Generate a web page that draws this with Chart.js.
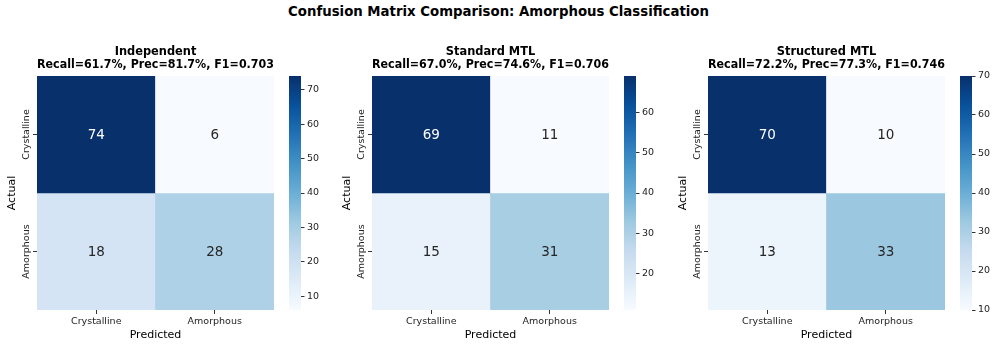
<!DOCTYPE html>
<html>
<head>
<meta charset="utf-8">
<script src="https://cdn.jsdelivr.net/npm/chart.js@4.4.0/dist/chart.umd.min.js"></script>
<style>
  body { margin: 0; background: #fff; }
  #wrap { position: relative; width: 997px; height: 348px; overflow: hidden; }
  #wrap canvas { position: absolute; }
  #titulo { position: absolute; left: 0; top: 0; width: 997px; text-align: center;
    font: bold 13.3px "DejaVu Sans", sans-serif; line-height: 24px; color: #000; }
</style>
</head>
<body>
<div id="wrap">
  <div id="titulo">Confusion Matrix Comparison: Amorphous Classification</div>
</div>
<script>
// dados
const predLabels = ["Crystalline", "Amorphous"];
const actualLabels = ["Crystalline", "Amorphous"];
const modelNames = ["Independent", "Standard MTL", "Structured MTL"];
const metricText = [
  "Recall=61.7%, Prec=81.7%, F1=0.703",
  "Recall=67.0%, Prec=74.6%, F1=0.706",
  "Recall=72.2%, Prec=77.3%, F1=0.746"
];
const cmIndependent = [[74, 6], [18, 28]];
const cmStandard = [[69, 11], [15, 31]];
const cmStructured = [[70, 10], [13, 33]];
const cbTicksIndependent = [10, 20, 30, 40, 50, 60, 70];
const cbTicksStandard = [20, 30, 40, 50, 60];
const cbTicksStructured = [10, 20, 30, 40, 50, 60, 70];

const matrices = [cmIndependent, cmStandard, cmStructured];
const cbTicks = [cbTicksIndependent, cbTicksStandard, cbTicksStructured];

// posicoes dos paineis (area do grafico)
const heatLeft = [37, 372, 708];
const heatWidth = 237;
const cbLeft = [289, 624, 960];

Chart.defaults.font.family = "'DejaVu Sans', sans-serif";
Chart.defaults.color = "#222";

// mapa de cores Blues (matplotlib)
const bluesStops = ["#f7fbff", "#deebf7", "#c6dbef", "#9ecae1", "#6baed6", "#4292c6", "#2171b5", "#08519c", "#08306b"];

function hexToRgb(h) {
  return [parseInt(h.slice(1, 3), 16), parseInt(h.slice(3, 5), 16), parseInt(h.slice(5, 7), 16)];
}

function blues(t) {
  t = Math.max(0, Math.min(1, t));
  const pos = t * (bluesStops.length - 1);
  const i = Math.min(Math.floor(pos), bluesStops.length - 2);
  const f = pos - i;
  const a = hexToRgb(bluesStops[i]);
  const b = hexToRgb(bluesStops[i + 1]);
  const c = a.map((v, k) => Math.round(v + (b[k] - v) * f));
  return `rgb(${c[0]},${c[1]},${c[2]})`;
}

const wrap = document.getElementById("wrap");

function novoCanvas(left, top, w, h) {
  const c = document.createElement("canvas");
  c.width = w;
  c.height = h;
  c.style.left = left + "px";
  c.style.top = top + "px";
  c.style.width = w + "px";
  c.style.height = h + "px";
  wrap.appendChild(c);
  return c;
}

// escreve os valores nas celulas e os rotulos das linhas (rotacionados)
const celulasPlugin = {
  id: "celulas",
  afterDatasetsDraw(chart) {
    const { ctx } = chart;
    const opts = chart.options.plugins.celulas;
    ctx.save();
    ctx.font = "13.5px 'DejaVu Sans'";
    ctx.textAlign = "center";
    ctx.textBaseline = "middle";
    chart.data.datasets.forEach((ds, r) => {
      chart.getDatasetMeta(r).data.forEach((bar, c) => {
        const p = bar.getCenterPoint();
        const v = opts.valores[r][c];
        ctx.fillStyle = (v - opts.vmin) / (opts.vmax - opts.vmin) > 0.6 ? "#fff" : "#262626";
        ctx.fillText(String(v), p.x, p.y + 1);
      });
    });
    ctx.restore();
  },
  afterDraw(chart) {
    const { ctx } = chart;
    const y = chart.scales.y;
    ctx.save();
    ctx.font = "9.5px 'DejaVu Sans'";
    ctx.fillStyle = "#222";
    ctx.textAlign = "center";
    ctx.textBaseline = "middle";
    actualLabels.forEach((lab, i) => {
      ctx.save();
      ctx.translate(chart.chartArea.left - 10.5, y.getPixelForValue(i + 0.5));
      ctx.rotate(-Math.PI / 2);
      ctx.fillText(lab, 0, 0);
      ctx.restore();
    });
    ctx.restore();
  }
};

matrices.forEach((cm, k) => {
  const flat = cm.flat();
  const vmin = Math.min(...flat);
  const vmax = Math.max(...flat);
  const cor = v => blues((v - vmin) / (vmax - vmin));

  // mapa de calor
  const canvas = novoCanvas(heatLeft[k] - 37, 40, 37 + heatWidth + 8, 308);
  new Chart(canvas.getContext("2d"), {
    type: "bar",
    data: {
      labels: predLabels,
      datasets: cm.map((linha, r) => ({
        label: actualLabels[r],
        data: linha.map(() => [r, r + 1]),
        backgroundColor: linha.map(cor),
        borderWidth: 0,
        grouped: false,
        barPercentage: 1,
        categoryPercentage: 1
      }))
    },
    options: {
      responsive: false,
      animation: false,
      layout: { padding: { left: 0, right: 8, top: 0, bottom: 0 } },
      plugins: {
        legend: { display: false },
        tooltip: { enabled: false },
        title: {
          display: true,
          fullSize: false,
          text: [modelNames[k], metricText[k]],
          color: "#000",
          font: { size: 11.4, weight: "bold", lineHeight: "13px" },
          padding: { top: 6, bottom: 4 }
        },
        celulas: { valores: cm, vmin, vmax }
      },
      scales: {
        x: {
          grid: { offset: false, drawOnChartArea: false, tickLength: 4, color: "#333" },
          border: { display: false },
          ticks: { font: { size: 9.5 }, padding: 2, color: "#222" },
          title: { display: true, text: "Predicted", font: { size: 11 }, color: "#000", padding: { top: 0, bottom: 6 } },
          afterFit: s => { s.height = 38; }
        },
        y: {
          type: "linear",
          min: 0,
          max: 2,
          reverse: true,
          afterBuildTicks: s => { s.ticks = [{ value: 0.5 }, { value: 1.5 }]; },
          grid: { drawOnChartArea: false, tickLength: 4, color: "#333" },
          border: { display: false },
          ticks: { display: false },
          title: { display: true, text: "Actual", font: { size: 11 }, color: "#000", padding: { top: 5.5, bottom: 0 } },
          afterFit: s => { s.width = 37; }
        }
      }
    },
    plugins: [celulasPlugin]
  });

  // barra de cores
  const cbCanvas = novoCanvas(cbLeft[k], 66, 40, 254);
  new Chart(cbCanvas.getContext("2d"), {
    type: "bar",
    data: {
      labels: [""],
      datasets: [{
        data: [[vmin, vmax]],
        borderWidth: 0,
        barPercentage: 1,
        categoryPercentage: 1,
        backgroundColor: ctx => {
          const ca = ctx.chart.chartArea;
          if (!ca) return bluesStops[4];
          const g = ctx.chart.ctx.createLinearGradient(0, ca.bottom, 0, ca.top);
          bluesStops.forEach((c, i) => g.addColorStop(i / (bluesStops.length - 1), c));
          return g;
        }
      }]
    },
    options: {
      responsive: false,
      animation: false,
      layout: { padding: { left: 0, right: 0, top: 10, bottom: 10 } },
      plugins: { legend: { display: false }, tooltip: { enabled: false } },
      scales: {
        x: { display: false },
        y: {
          position: "right",
          min: vmin,
          max: vmax,
          afterBuildTicks: s => { s.ticks = cbTicks[k].map(v => ({ value: v })); },
          grid: { drawOnChartArea: false, tickLength: 3.5, color: "#333" },
          border: { display: false },
          ticks: { font: { size: 9.5 }, padding: 2.5, color: "#222" },
          afterFit: s => { s.width = 28; }
        }
      }
    }
  });
});
</script>
</body>
</html>
